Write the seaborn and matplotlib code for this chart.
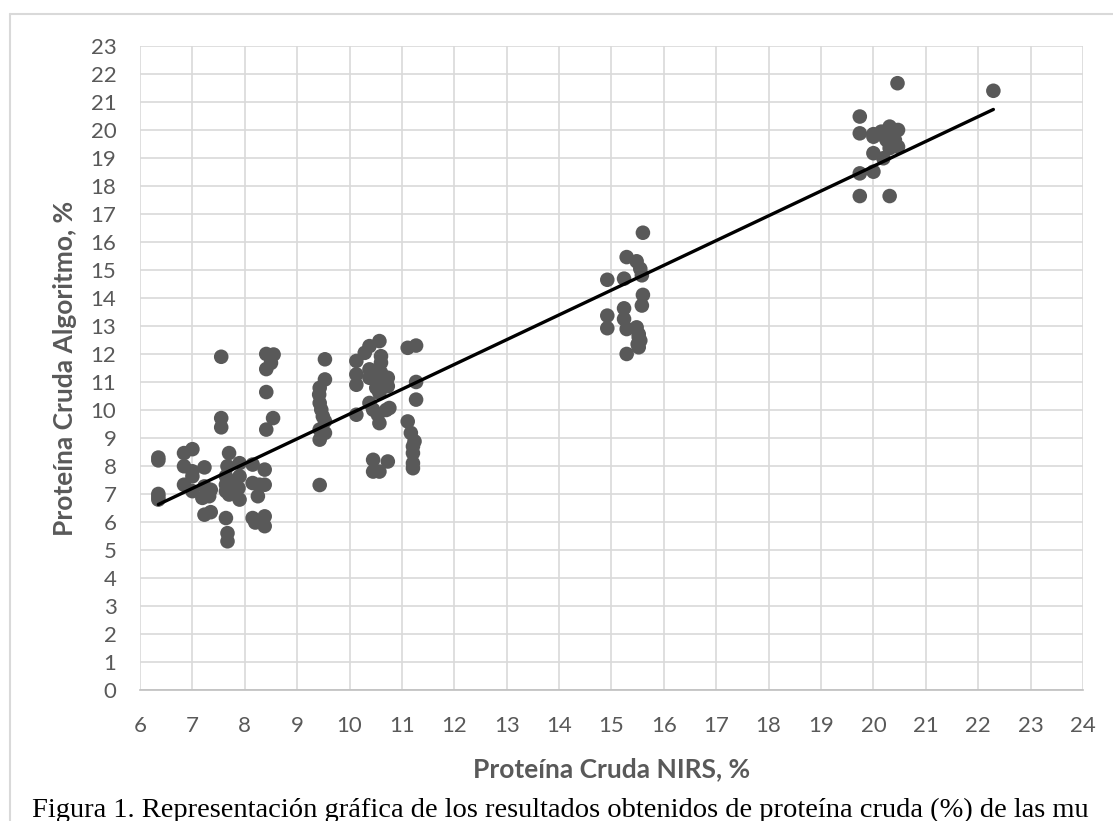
import numpy as np
import pandas as pd
import seaborn as sns
import matplotlib.pyplot as plt
from matplotlib.lines import Line2D

# Data (NIRS vs algorithm, crude protein %)
nirs = [
    # cluster ~6-8.5
    6.35, 6.35, 6.35, 6.35, 6.35,
    6.84, 7.0, 6.84, 7.0, 7.23, 7.0, 6.84, 7.0,
    7.23, 7.32, 7.19, 7.35, 7.23, 7.35,
    7.55, 7.55, 7.55,
    7.7, 7.67, 7.9, 8.15, 8.38,
    7.64, 7.64, 7.64, 7.75, 7.9, 7.88, 7.7, 7.9,
    8.15, 8.28, 8.38, 8.25,
    7.64, 7.67, 7.67,
    8.15, 8.38, 8.38, 8.2,
    8.41, 8.55, 8.5, 8.41, 8.41, 8.54, 8.41,
    # cluster ~9.5-11.3
    9.53, 9.53, 9.43, 9.42, 9.43, 9.46, 9.49, 9.53, 9.43, 9.53, 9.43, 9.43,
    10.13, 10.29, 10.38, 10.57, 10.13, 10.13,
    10.38, 10.38, 10.6, 10.6, 10.6, 10.6, 10.73, 10.73, 10.51, 10.57,
    10.38, 10.45, 10.54, 10.57, 10.7, 10.76, 10.13,
    10.45, 10.45, 10.57, 10.73,
    11.11, 11.27, 11.27, 11.27,
    11.11, 11.17, 11.24, 11.21, 11.21, 11.21, 11.21,
    # cluster ~15
    15.6, 15.29, 15.48, 15.55, 15.58, 14.92, 15.24, 15.6, 15.58,
    14.92, 14.92, 15.24, 15.24, 15.29, 15.48, 15.52, 15.55, 15.52, 15.29,
    15.52, 15.5,
    # cluster ~20
    20.46, 22.29, 19.74, 19.74, 20.0, 20.15, 20.31, 20.47, 20.25, 20.41,
    20.47, 20.31, 20.0, 20.0, 20.19, 19.74, 20.0, 19.74, 20.31, 20.2, 20.4,
]
algoritmo = [
    8.3, 8.2, 7.0, 6.9, 6.8,
    8.46, 8.6, 7.99, 7.81, 7.95, 7.63, 7.33, 7.1,
    7.27, 6.92, 6.86, 7.15, 6.26, 6.35,
    11.9, 9.71, 9.38,
    8.46, 7.99, 8.1, 8.05, 7.87,
    7.63, 7.33, 7.1, 7.39, 7.63, 7.21, 6.98, 6.8,
    7.39, 7.33, 7.33, 6.92,
    6.14, 5.6, 5.31,
    6.14, 6.2, 5.85, 5.98,
    12.0, 11.98, 11.68, 11.46, 10.64, 9.71, 9.3,
    11.81, 11.09, 10.79, 10.55, 10.25, 10.01, 9.77, 9.6, 9.3, 9.18, 8.94, 7.32,
    11.75, 12.04, 12.28, 12.46, 11.27, 10.9,
    11.45, 11.15, 11.92, 11.69, 11.33, 10.97, 11.15, 10.85, 10.79, 10.61,
    10.25, 10.01, 9.83, 9.53, 10.0, 10.07, 9.83,
    8.22, 7.8, 7.8, 8.16,
    12.22, 12.3, 11.0, 10.37,
    9.59, 9.18, 8.88, 8.46, 8.1, 7.92, 8.7,
    16.33, 15.46, 15.31, 15.04, 14.81, 14.65, 14.69, 14.11, 13.73,
    13.37, 12.92, 13.63, 13.25, 12.89, 12.95, 12.71, 12.48, 12.24, 12.0,
    12.6, 12.35,
    21.67, 21.4, 20.48, 19.88, 19.76, 19.94, 20.12, 20.0, 19.64, 19.64,
    19.4, 19.35, 19.85, 19.17, 18.99, 18.45, 18.51, 17.64, 17.64, 19.8, 19.9,
]
x_ticks = list(range(6, 25))
y_ticks = list(range(0, 24))
caption = ("Figura 1. Representación gráfica de los resultados obtenidos "
           "de proteína cruda (%) de las mu")

df = pd.DataFrame({"nirs": nirs, "alg": algoritmo})

sns.set_theme(style="white")
plt.rcParams["font.family"] = ["Lato", "DejaVu Sans"]

fig = plt.figure(figsize=(11.13, 8.21), dpi=100)
ax = fig.add_axes([0.1258, 0.1596, 0.973 - 0.1258, 0.944 - 0.1596])

sns.scatterplot(data=df, x="nirs", y="alg", ax=ax, s=110, color="#595959",
                edgecolor="none", linewidth=0, zorder=3)
sns.regplot(data=df, x="nirs", y="alg", ax=ax, scatter=False, ci=None,
            line_kws={"color": "black", "lw": 2.4, "zorder": 4})

ax.set_xlim(6, 24)
ax.set_ylim(0, 23)
ax.set_xticks(x_ticks)
ax.set_yticks(y_ticks)
ax.grid(True, color="#d9d9d9", lw=1.2)
ax.set_axisbelow(True)
for side in ["top", "right", "left"]:
    ax.spines[side].set_visible(False)
ax.spines["bottom"].set_color("#bfbfbf")
ax.spines["bottom"].set_linewidth(1.2)
ax.tick_params(axis="both", length=0, labelsize=16, colors="#595959")
ax.tick_params(axis="x", pad=19)
ax.tick_params(axis="y", pad=17)

ax.set_xlabel("Proteína Cruda NIRS, %", fontsize=19, fontweight="bold",
              color="#595959", labelpad=15)
ax.set_ylabel("Proteína Cruda Algoritmo, %", fontsize=19, fontweight="bold",
              color="#595959", labelpad=10)

# chart border (only top and left edges visible in the crop)
fig.add_artist(Line2D([10 / 1113, 1.0], [1 - 14 / 821, 1 - 14 / 821],
                      color="#d9d9d9", lw=1.5, transform=fig.transFigure))
fig.add_artist(Line2D([10 / 1113, 10 / 1113], [0, 1 - 14 / 821],
                      color="#d9d9d9", lw=1.5, transform=fig.transFigure))

fig.text(32 / 1113, 1 - 817 / 821, caption, fontsize=20.5,
         family=["Liberation Serif", "DejaVu Serif"], color="black",
         va="baseline")

fig.savefig("out.png", dpi=100)
